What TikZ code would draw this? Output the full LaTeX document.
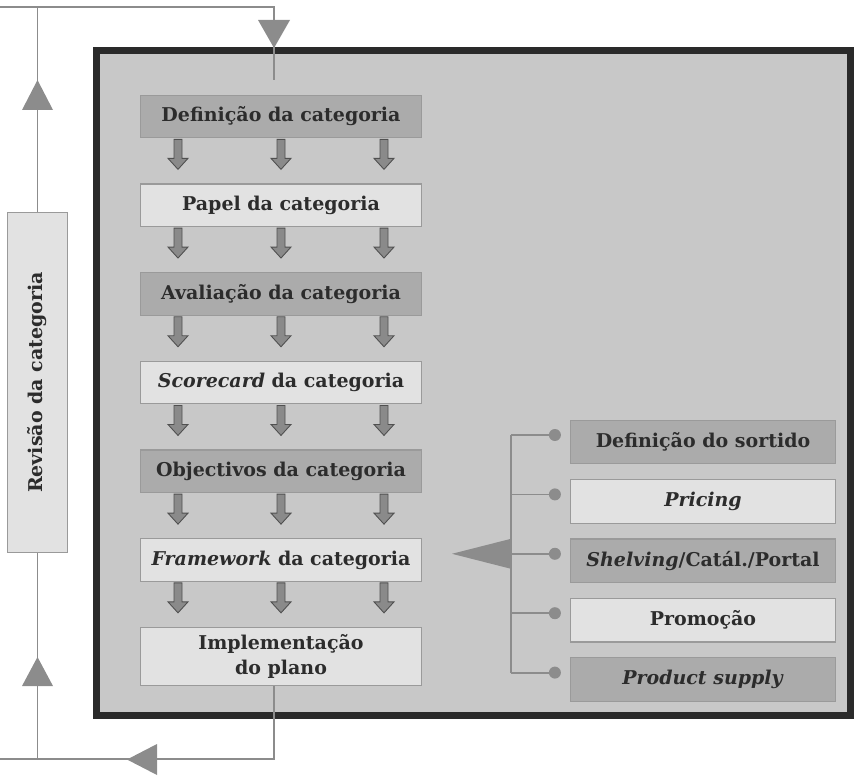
\documentclass[tikz,border=0pt]{standalone}
\usepackage{fontspec}
\setmainfont{DejaVu Serif}
\usepackage{tikz}
\usetikzlibrary{calc,positioning}

\definecolor{framegray}{HTML}{2A2A2A}
\definecolor{panelgray}{HTML}{C8C8C8}
\definecolor{darkbox}{HTML}{ABABAB}
\definecolor{lightbox}{HTML}{E2E2E2}
\definecolor{edgegray}{HTML}{9A9A9A}
\definecolor{linegray}{HTML}{8C8C8C}
\definecolor{textgray}{HTML}{2C2C2C}
\definecolor{arrowgray}{HTML}{8A8A8A}
\definecolor{arrowedge}{HTML}{505050}

\tikzset{
  stagebox/.style={draw=edgegray, line width=1.2pt, minimum width=281pt,
    minimum height=42.5pt, inner sep=2pt, align=center, text=textgray,
    font=\bfseries\fontsize{19}{25}\selectfont},
  dark/.style={fill=darkbox},
  light/.style={fill=lightbox},
  sidebox/.style={stagebox, minimum width=265pt, minimum height=43.5pt},
  fatarrow/.style={draw=arrowedge, fill=arrowgray, line width=0.9pt, line join=miter},
  loopline/.style={draw=linegray, line width=1.8pt},
  tri/.style={fill=linegray},
  dot/.style={circle, fill=linegray, inner sep=0pt, minimum size=12pt},
}

\begin{document}
\begin{tikzpicture}[x=1pt, y=-1pt]
  \useasboundingbox (0,0) rectangle (855,776);
  % outer panel
  \draw[framegray, line width=7pt, fill=panelgray] (96.5,50.5) rectangle (850,715);
  % main chain
  \node[stagebox, dark] (def) at (281,116.5) {Definição da categoria};
  \node[stagebox, light, below=45pt of def] (pap) {Papel da categoria};
  \node[stagebox, dark, below=45pt of pap] (ava) {Avaliação da categoria};
  \node[stagebox, light, below=45pt of ava] (sco) {\textit{Scorecard} da categoria};
  \node[stagebox, dark, below=45pt of sco] (obj) {Objectivos da categoria};
  \node[stagebox, light, below=45pt of obj] (fra) {\textit{Framework} da categoria};
  \node[stagebox, light, minimum height=58pt, below=45pt of fra] (imp) {Implementação\\do plano};
  % arrows between stages
  \foreach \a in {def,pap,ava,sco,obj,fra}
    \foreach \dx in {-103,0,103}
      \draw[fatarrow] ($(\a.south)+(\dx-4,1)$) -- ++(0,19) -- ++(-6,0)
        -- ++(10,11) -- ++(10,-11) -- ++(-6,0) -- ++(0,-19) -- cycle;
  % levers
  \node[sidebox, dark] (s1) at (703,442) {Definição do sortido};
  \node[sidebox, light, below=14.7pt of s1] (s2) {\textit{Pricing}};
  \node[sidebox, dark, below=14.7pt of s2] (s3) {\textit{Shelving}/Catál./Portal};
  \node[sidebox, light, below=14.7pt of s3] (s4) {Promoção};
  \node[sidebox, dark, below=14.7pt of s4] (s5) {\textit{Product supply}};
  \foreach \i in {1,...,5}
    \node[dot] (p\i) at ($(s\i.west)+(-15,-7)$) {};
  \coordinate (trunk) at (511,0);
  \foreach \i in {1,...,5}
    \draw[loopline] (p\i.center) -- (p\i -| trunk);
  \draw[loopline] (p1 -| trunk) -- (p5 -| trunk);
  \fill[tri] ($(p3 -| trunk)+(0,-15)$) -- ($(p3 -| trunk)+(-59,0)$)
    -- ($(p3 -| trunk)+(0,15)$) -- cycle;
  % review box and loop
  \node[stagebox, light, minimum width=340pt, minimum height=60pt, rotate=90]
    (rev) at (37.5,382.5) {Revisão da categoria};
  \coordinate (topin) at (274,80);
  \draw[loopline] (rev.east) |- (0,7) -| (topin);
  \draw[loopline] (imp.south -| topin) |- (0,759) -| (rev.west);
  \fill[tri] (rev.east |- 0,110) -- ++(-15.5,0) -- ++(15.5,-30) -- ++(15.5,30) -- cycle;
  \fill[tri] (rev.west |- 0,686) -- ++(-15.5,0) -- ++(15.5,-29) -- ++(15.5,29) -- cycle;
  \fill[tri] (topin |- 0,20) -- ++(-16,0) -- ++(16,28) -- ++(16,-28) -- cycle;
  \fill[tri] (157,744) -- (127,759.5) -- (157,775) -- cycle;
\end{tikzpicture}
\end{document}
